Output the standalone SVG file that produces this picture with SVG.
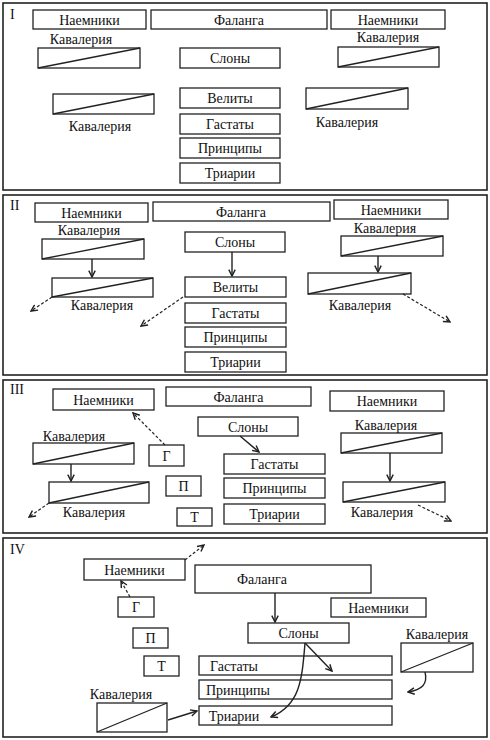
<svg xmlns="http://www.w3.org/2000/svg" width="490" height="740" viewBox="0 0 490 740">
<defs>
<style>
.frame{fill:none;stroke:#222;stroke-width:1.6}
.box{fill:#fff;stroke:#222;stroke-width:1.3}
.diag{stroke:#222;stroke-width:1.3}
.t{font-family:"Liberation Serif","Times New Roman",serif;font-size:14px;fill:#111;text-anchor:middle}
.num{font-family:"Liberation Serif","Times New Roman",serif;font-size:14px;fill:#111}
.ar{fill:none;stroke:#222;stroke-width:1.4;marker-end:url(#ah)}
.da{fill:none;stroke:#222;stroke-width:1.2;stroke-dasharray:3,2;marker-end:url(#ah)}
</style>
<marker id="ah" viewBox="0 0 10 10" refX="9" refY="5" markerWidth="8" markerHeight="8" markerUnits="userSpaceOnUse" orient="auto">
<path d="M1,1 L9,5 L1,9" fill="none" stroke="#222" stroke-width="1.8"/>
</marker>
</defs>

<!-- Panel frames -->
<rect class="frame" x="3" y="3" width="484" height="187"/>
<rect class="frame" x="3" y="195" width="484" height="180"/>
<rect class="frame" x="3" y="380" width="484" height="153"/>
<rect class="frame" x="3" y="538" width="484" height="199"/>
<text class="num" x="10" y="19">I</text>
<text class="num" x="10" y="210">II</text>
<text class="num" x="10" y="394">III</text>
<text class="num" x="10" y="554">IV</text>

<!-- Panel I -->
<g id="p1-naem-l"><rect class="box" x="33" y="10" width="113" height="19"/><text class="t" x="89.5" y="24.5">Наемники</text></g>
<g id="p1-falanga"><rect class="box" x="151" y="10" width="176" height="19"/><text class="t" x="239" y="24.5">Фаланга</text></g>
<g id="p1-naem-r"><rect class="box" x="331" y="10" width="114" height="19"/><text class="t" x="388" y="24.5">Наемники</text></g>
<g id="p1-cav-l1"><text class="t" x="81" y="44">Кавалерия</text><rect class="box" x="38" y="48" width="102" height="20"/><line class="diag" x1="38" y1="68" x2="140" y2="48"/></g>
<g id="p1-cav-l2"><rect class="box" x="53" y="94" width="101" height="20"/><line class="diag" x1="53" y1="114" x2="154" y2="94"/><text class="t" x="100" y="131">Кавалерия</text></g>
<g id="p1-slony"><rect class="box" x="180" y="48" width="100" height="20"/><text class="t" x="230" y="63">Слоны</text></g>
<g id="p1-velity"><rect class="box" x="180" y="88" width="100" height="20"/><text class="t" x="230" y="103">Велиты</text></g>
<g id="p1-gastaty"><rect class="box" x="180" y="114" width="100" height="20"/><text class="t" x="230" y="129">Гастаты</text></g>
<g id="p1-principy"><rect class="box" x="180" y="138" width="100" height="20"/><text class="t" x="230" y="153">Принципы</text></g>
<g id="p1-triarii"><rect class="box" x="180" y="163" width="100" height="20"/><text class="t" x="230" y="178">Триарии</text></g>
<g id="p1-cav-r1"><text class="t" x="388" y="42">Кавалерия</text><rect class="box" x="338" y="47" width="101" height="20"/><line class="diag" x1="338" y1="67" x2="439" y2="47"/></g>
<g id="p1-cav-r2"><rect class="box" x="306" y="88" width="102" height="21"/><line class="diag" x1="306" y1="109" x2="408" y2="88"/><text class="t" x="347" y="127">Кавалерия</text></g>

<!-- Panel II -->
<g id="p2-naem-l"><rect class="box" x="35" y="203" width="113" height="19"/><text class="t" x="91.5" y="217.5">Наемники</text></g>
<g id="p2-falanga"><rect class="box" x="153" y="202" width="177" height="19"/><text class="t" x="241" y="216.5">Фаланга</text></g>
<g id="p2-naem-r"><rect class="box" x="334" y="200" width="114" height="19"/><text class="t" x="391" y="214.5">Наемники</text></g>
<g id="p2-cav-l1"><text class="t" x="89" y="235">Кавалерия</text><rect class="box" x="42" y="239" width="102" height="20"/><line class="diag" x1="42" y1="259" x2="144" y2="239"/></g>
<g id="p2-cav-l2"><rect class="box" x="52" y="278" width="101" height="19"/><line class="diag" x1="52" y1="297" x2="153" y2="278"/><text class="t" x="102" y="310">Кавалерия</text></g>
<g id="p2-slony"><rect class="box" x="185" y="232" width="100" height="20"/><text class="t" x="235" y="247">Слоны</text></g>
<g id="p2-velity"><rect class="box" x="185" y="277" width="101" height="20"/><text class="t" x="235.5" y="292">Велиты</text></g>
<g id="p2-gastaty"><rect class="box" x="185" y="303" width="101" height="20"/><text class="t" x="235.5" y="318">Гастаты</text></g>
<g id="p2-principy"><rect class="box" x="185" y="327" width="101" height="20"/><text class="t" x="235.5" y="342">Принципы</text></g>
<g id="p2-triarii"><rect class="box" x="185" y="352" width="101" height="20"/><text class="t" x="235.5" y="367">Триарии</text></g>
<g id="p2-cav-r1"><text class="t" x="385" y="233">Кавалерия</text><rect class="box" x="341" y="236" width="102" height="20"/><line class="diag" x1="341" y1="256" x2="443" y2="236"/></g>
<g id="p2-cav-r2"><rect class="box" x="308" y="273" width="103" height="21"/><line class="diag" x1="308" y1="294" x2="411" y2="273"/><text class="t" x="360" y="310">Кавалерия</text></g>

<!-- Panel III -->
<g id="p3-naem-l"><rect class="box" x="53" y="389" width="101" height="21"/><text class="t" x="103.5" y="404.5">Наемники</text></g>
<g id="p3-falanga"><rect class="box" x="166" y="387" width="145" height="19"/><text class="t" x="238.5" y="401.5">Фаланга</text></g>
<g id="p3-naem-r"><rect class="box" x="330" y="391" width="114" height="20"/><text class="t" x="387" y="406">Наемники</text></g>
<g id="p3-slony"><rect class="box" x="198" y="417" width="100" height="19"/><text class="t" x="248" y="431.5">Слоны</text></g>
<g id="p3-gastaty"><rect class="box" x="224" y="454" width="101" height="20"/><text class="t" x="274.5" y="469">Гастаты</text></g>
<g id="p3-principy"><rect class="box" x="224" y="478" width="101" height="20"/><text class="t" x="274.5" y="493">Принципы</text></g>
<g id="p3-triarii"><rect class="box" x="224" y="504" width="101" height="20"/><text class="t" x="274.5" y="519">Триарии</text></g>
<g id="p3-g"><rect class="box" x="149" y="445" width="35" height="21"/><text class="t" x="166.5" y="460.5">Г</text></g>
<g id="p3-p"><rect class="box" x="166" y="476" width="35" height="20"/><text class="t" x="183.5" y="491">П</text></g>
<g id="p3-t"><rect class="box" x="177" y="508" width="35" height="18"/><text class="t" x="194.5" y="522">Т</text></g>
<g id="p3-cav-l1"><text class="t" x="74" y="441">Кавалерия</text><rect class="box" x="33" y="443" width="101" height="21"/><line class="diag" x1="33" y1="464" x2="134" y2="443"/></g>
<g id="p3-cav-l2"><rect class="box" x="49" y="482" width="100" height="21"/><line class="diag" x1="49" y1="503" x2="149" y2="482"/><text class="t" x="94" y="517">Кавалерия</text></g>
<g id="p3-cav-r1"><text class="t" x="386" y="430">Кавалерия</text><rect class="box" x="341" y="433" width="101" height="20"/><line class="diag" x1="341" y1="453" x2="442" y2="433"/></g>
<g id="p3-cav-r2"><rect class="box" x="343" y="482" width="102" height="20"/><line class="diag" x1="343" y1="502" x2="445" y2="482"/><text class="t" x="382" y="517">Кавалерия</text></g>

<!-- Panel IV -->
<g id="p4-naem-l"><rect class="box" x="84" y="559" width="101" height="21"/><text class="t" x="134.5" y="574.5">Наемники</text></g>
<g id="p4-g"><rect class="box" x="118" y="597" width="36" height="20"/><text class="t" x="136" y="612">Г</text></g>
<g id="p4-p"><rect class="box" x="133" y="628" width="35" height="20"/><text class="t" x="150.5" y="643">П</text></g>
<g id="p4-t"><rect class="box" x="144" y="656" width="35" height="20"/><text class="t" x="161.5" y="671">Т</text></g>
<g id="p4-falanga"><rect class="box" x="195" y="565" width="176" height="28"/><text class="t" x="262" y="584">Фаланга</text></g>
<g id="p4-naem-r"><rect class="box" x="331" y="598" width="95" height="19"/><text class="t" x="378.5" y="612.5">Наемники</text></g>
<g id="p4-slony"><rect class="box" x="248" y="623" width="101" height="20"/><text class="t" x="298.5" y="638">Слоны</text></g>
<g id="p4-cav-r"><text class="t" x="437" y="639">Кавалерия</text><rect class="box" x="401" y="643" width="72" height="29"/><line class="diag" x1="401" y1="672" x2="473" y2="643"/></g>
<g id="p4-gastaty"><rect class="box" x="199" y="656" width="193" height="19"/><text class="t" x="234" y="670.5">Гастаты</text></g>
<g id="p4-principy"><rect class="box" x="199" y="680" width="193" height="19"/><text class="t" x="238" y="694.5">Принципы</text></g>
<g id="p4-triarii"><rect class="box" x="199" y="706" width="193" height="19"/><text class="t" x="234" y="720.5">Триарии</text></g>
<g id="p4-cav-l"><text class="t" x="121" y="699">Кавалерия</text><rect class="box" x="97" y="703" width="70" height="29"/><line class="diag" x1="97" y1="732" x2="167" y2="703"/></g>

<!-- Connectors -->
<g id="connectors">
<line class="ar" x1="92" y1="259" x2="92" y2="277"/>
<line class="da" x1="52" y1="297" x2="31" y2="311"/>
<line class="ar" x1="232" y1="252" x2="232" y2="276"/>
<line class="da" x1="183" y1="297" x2="141" y2="326"/>
<line class="ar" x1="378" y1="256" x2="378" y2="272"/>
<line class="da" x1="403" y1="294" x2="450" y2="322"/>

<line class="da" x1="165" y1="445" x2="133" y2="413"/>
<line class="ar" x1="240" y1="436" x2="259" y2="452"/>
<line class="ar" x1="71" y1="464" x2="71" y2="481"/>
<line class="da" x1="49" y1="503" x2="29" y2="517"/>
<line class="ar" x1="390" y1="453" x2="390" y2="481"/>
<line class="da" x1="418" y1="505" x2="451" y2="521"/>

<line class="da" x1="185" y1="560" x2="204" y2="545"/>
<line class="da" x1="130" y1="597" x2="121" y2="581"/>
<line class="ar" x1="275" y1="593" x2="275" y2="622"/>
<line class="ar" x1="305" y1="643" x2="332" y2="671"/>
<path class="ar" d="M305,643 C302,680 300,705 271,717"/>
<path class="ar" d="M425,672 C428,684 422,690 408,692"/>
<line class="ar" x1="168" y1="720" x2="197" y2="711"/>
</g>
</svg>
